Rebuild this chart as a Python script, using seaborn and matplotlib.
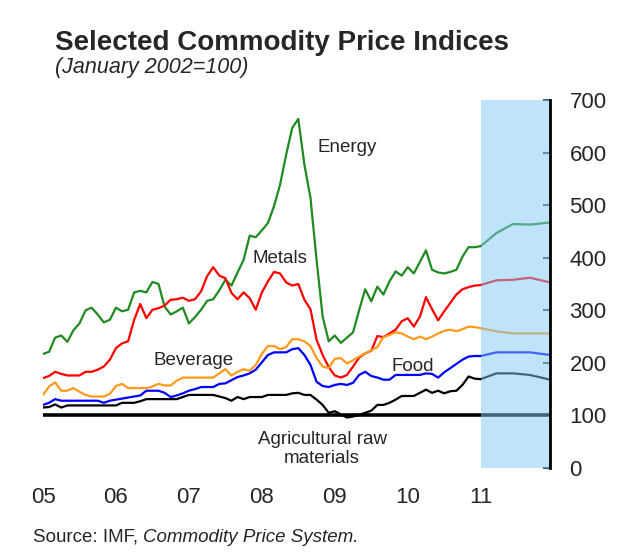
import numpy as np
import pandas as pd
import matplotlib
matplotlib.use('Agg')
import matplotlib.pyplot as plt
import seaborn as sns

# monthly index values, Jan 2005 - Jan 2011 (months since Jan 2005)
months = np.arange(73)

energy = [217, 221, 248, 252, 240, 262, 275, 300, 305, 292, 277, 282,
          305, 298, 301, 334, 337, 334, 354, 350, 307, 292, 298, 305,
          275, 287, 301, 318, 321, 338, 358, 347, 372, 396, 442, 439,
          452, 466, 498, 539, 596, 647, 664, 577, 514, 396, 288, 241,
          252, 238, 248, 258, 300, 340, 317, 345, 330, 355, 374, 366,
          382, 370, 392, 414, 377, 372, 370, 373, 377, 402, 420, 420,
          422]
metals = [171, 175, 183, 179, 176, 176, 176, 183, 183, 187, 193, 206,
          228, 237, 241, 282, 312, 285, 301, 304, 309, 320, 321, 324,
          318, 321, 336, 365, 382, 366, 361, 333, 321, 334, 323, 301,
          334, 355, 373, 370, 353, 347, 350, 320, 302, 244, 215, 192,
          176, 172, 177, 193, 210, 218, 223, 251, 249, 256, 263, 279,
          285, 269, 288, 325, 302, 281, 298, 314, 330, 340, 344, 347,
          348]
beverage = [139, 155, 163, 147, 147, 152, 145, 139, 136, 136, 136, 141,
            156, 160, 152, 152, 152, 152, 155, 160, 157, 157, 166, 172,
            172, 172, 172, 172, 172, 180, 188, 176, 183, 188, 185, 196,
            217, 232, 232, 226, 230, 245, 245, 241, 232, 209, 193, 190,
            208, 209, 199, 205, 212, 218, 224, 230, 249, 253, 258, 256,
            250, 245, 250, 245, 250, 256, 261, 263, 260, 264, 269, 268,
            266]
food = [120, 124, 131, 128, 128, 128, 128, 128, 128, 128, 124, 128,
        130, 132, 134, 136, 138, 147, 147, 147, 143, 135, 138, 142,
        147, 150, 154, 154, 154, 160, 161, 167, 173, 176, 180, 187,
        201, 215, 220, 220, 220, 226, 228, 215, 196, 164, 156, 154,
        158, 160, 158, 162, 177, 183, 175, 172, 168, 168, 177, 177,
        177, 177, 177, 180, 179, 172, 182, 190, 198, 206, 212, 213,
        213]
agri = [115, 116, 121, 115, 119, 119, 119, 119, 119, 119, 119, 119,
        119, 124, 124, 124, 127, 131, 131, 131, 131, 131, 131, 135,
        139, 139, 139, 139, 139, 136, 133, 128, 135, 131, 135, 135,
        135, 139, 139, 139, 139, 142, 143, 139, 139, 130, 120, 105,
        108, 102, 96, 98, 101, 105, 109, 120, 120, 124, 130, 137,
        137, 137, 143, 149, 143, 147, 142, 146, 147, 158, 174, 170,
        169]

# projections for 2011
proj_months = [72, 74.6, 77.3, 80.1, 83.4]
energy_proj = [422, 447, 464, 463, 467]
metals_proj = [348, 357, 358, 362, 353]
beverage_proj = [266, 260, 256, 256, 256]
food_proj = [213, 220, 220, 220, 215]
agri_proj = [169, 180, 180, 177, 168]

year_labels = ['05', '06', '07', '08', '09', '10', '11']
y_ticks = [0, 100, 200, 300, 400, 500, 600, 700]

sns.set_style('white')
plt.rcParams['font.family'] = ['Liberation Sans', 'DejaVu Sans']

fig = plt.figure(figsize=(6.22, 5.59), dpi=100)
ax = fig.add_axes([43 / 622, 1 - 468 / 559, (550 - 43) / 622, (468 - 100) / 559])

series = [
    (energy, energy_proj, '#1f8a1f'),
    (metals, metals_proj, '#ff0000'),
    (beverage, beverage_proj, '#ff9a1a'),
    (food, food_proj, '#0000ff'),
    (agri, agri_proj, '#000000'),
]
for hist, proj, col in series:
    sns.lineplot(x=months, y=hist, color=col, lw=1.6, ax=ax)
    sns.lineplot(x=proj_months, y=proj, color=col, lw=1.6, ax=ax)

ax.axhline(100, color='black', lw=2.6, zorder=2)

# shaded projection period (overlay)
ax.axvspan(72, 83.4, color='#81c9f5', alpha=0.5, lw=0, zorder=3)

ax.set_xlim(0, 83.4)
ax.set_ylim(0, 700)
ax.set_xticks(np.arange(0, 73, 12))
ax.set_xticklabels(year_labels)
ax.set_yticks(y_ticks)
ax.yaxis.tick_right()
ax.tick_params(axis='x', length=0, pad=14, labelsize=16)
ax.tick_params(axis='y', direction='in', length=5, width=1.5, pad=14,
               labelsize=16, color='#3d5a70')
for side in ['top', 'left', 'bottom']:
    ax.spines[side].set_visible(False)
ax.spines['right'].set_linewidth(2)
ax.spines['right'].set_color('black')
ax.spines['right'].set_zorder(4)
ax.set_xlabel('')
ax.set_ylabel('')

lab = dict(fontsize=13.5, va='center')
ax.text(45.2, 610, 'Energy', ha='left', **lab)
ax.text(34.5, 399, 'Metals', ha='left', **lab)
ax.text(18.1, 204, 'Beverage', ha='left', **lab)
ax.text(57.4, 194, 'Food', ha='left', **lab)
ax.text(45.9, 36, 'Agricultural raw\nmaterials', ha='center',
        linespacing=1.2, **lab)

fig.text(55 / 622, 1 - 50 / 559, 'Selected Commodity Price Indices',
         fontsize=20, fontweight='bold', va='baseline', ha='left')
fig.text(55 / 622, 1 - 73 / 559, '(January 2002=100)',
         fontsize=15.5, style='italic', va='baseline', ha='left')

src = fig.text(33 / 622, 1 - 542 / 559, 'Source: IMF, ', fontsize=13.5,
               va='baseline', ha='left')
fig.canvas.draw()
bb = src.get_window_extent()
fig.text(bb.x1 / fig.bbox.width, 1 - 542 / 559, 'Commodity Price System.',
         fontsize=13.5, style='italic', va='baseline', ha='left')

fig.savefig('out.png', dpi=100)
